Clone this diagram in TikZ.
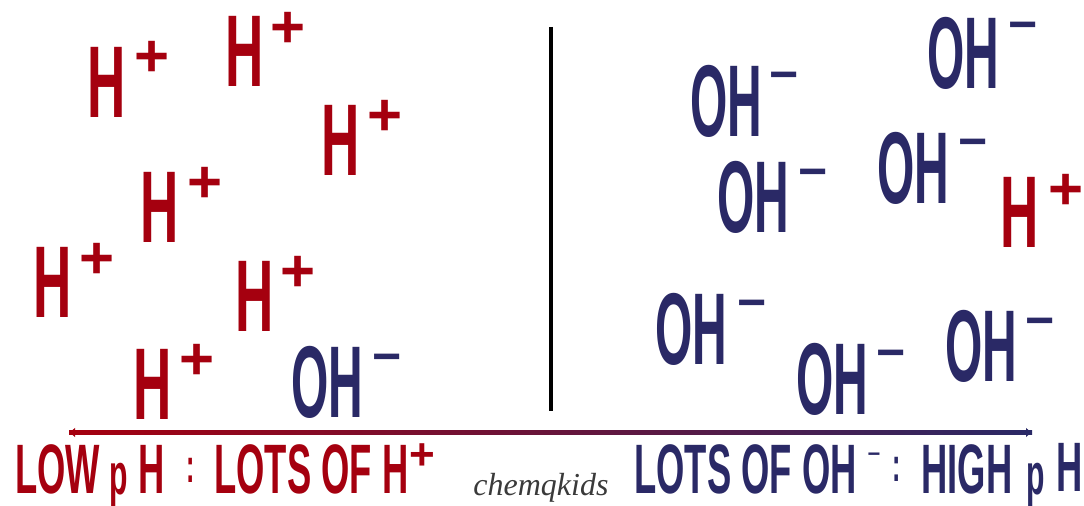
\documentclass[tikz,border=0pt]{standalone}
\usepackage{fontspec}
\usepackage{xcolor}
\usetikzlibrary{arrows.meta}
\newfontfamily\ionfont[FakeStretch=0.52]{Liberation Sans}
\newfontfamily\ohfont[FakeStretch=0.47]{Liberation Sans}
\newfontfamily\signfont{Liberation Sans}
\newfontfamily\markfont{Liberation Serif}
\definecolor{acidred}{HTML}{A5000F}
\definecolor{basenavy}{HTML}{2A2966}
\definecolor{markgray}{HTML}{3A3A3A}
\tikzset{
  ion/.style={inner sep=0pt, anchor=base west},
  hion/.style={ion, text=acidred, font=\ionfont\bfseries\fontsize{51}{51}\selectfont},
  ohion/.style={ion, text=basenavy, font=\ohfont\bfseries\fontsize{51}{51}\selectfont},
  charge/.style={inner sep=0pt, anchor=center, text depth=0pt},
  pluscharge/.style={charge, text=acidred, text height=20pt, font=\signfont\bfseries\fontsize{30}{30}\selectfont},
  minuscharge/.style={charge, text=basenavy, text height=16.7pt, font=\signfont\bfseries\fontsize{25}{25}\selectfont},
  caption/.style={inner sep=0pt, anchor=base west, font=\ionfont\bfseries\fontsize{35}{35}\selectfont},
  smallp/.style={caption, font=\ionfont\bfseries\fontsize{29}{29}\selectfont},
  smallcolon/.style={caption, font=\ionfont\bfseries\fontsize{24}{24}\selectfont}
}
\begin{document}
\begin{tikzpicture}[x=0.5pt,y=-0.5pt]
  \fill[white] (0,0) rectangle (1084,506);
  \useasboundingbox (0,0) rectangle (1084,506);

  % divider between the two sides
  \coordinate (divtop) at (551,27);
  \coordinate (divbot) at (551,411);
  \draw[line width=1.6pt] (divtop) -- (divbot);

  % acid side (and the odd one out)
  \foreach \hx/\hy/\px/\py [count=\i] in {87/118/152/57, 225/87/288/28, 321/176/385/116,
      140/243/205/183, 33/318/97/259, 235/332/298/272, 133/420/197/360, 1000/248/1066/190}{
    \node[hion] (hp\i) at (\hx,\hy) {H};
    \node[pluscharge] (hps\i) at (\px,\py) {+};
  }

  % base side
  \foreach \ox/\oy/\mx/\my [count=\i] in {291/418/387/357, 690/137/784/75, 927/89/1023/25,
      717/233/813/172, 877/204/973/142, 655/365/752/303, 796/415/891/353, 945/382/1040/321}{
    \node[ohion] (oh\i) at (\ox,\oy) {OH};
    \node[minuscharge] (ohs\i) at (\mx,\my) {−};
  }

  % pH scale
  \coordinate (scaleL) at (69,432.5);
  \coordinate (scaleR) at (1032,432.5);
  \shade[left color=acidred, right color=basenavy] ([yshift=-0.8pt]scaleL) rectangle ([yshift=0.8pt]scaleR);
  \draw[acidred, line width=1.6pt, {Latex[length=3pt,width=5pt]}-] (scaleL) -- ++(10,0);
  \draw[basenavy, line width=1.6pt, -{Latex[length=3pt,width=5pt]}] ([xshift=-5pt]scaleR) -- (scaleR);

  % captions
  \node[caption, text=acidred] (lowtxt) at (15,494) {LOW};
  \node[smallp, text=acidred] (lowp) at (109,495) {p};
  \node[caption, text=acidred] (lowh) at (138,494) {H};
  \node[smallcolon, text=acidred] (lowcolon) at (186,483) {:};
  \node[caption, text=acidred] (lotsh) at (214,494) {LOTS OF H};
  \node[charge, text=acidred, text height=15pt, font=\signfont\bfseries\fontsize{22}{22}\selectfont] (lotshs) at (422,455) {+};

  \node[inner sep=0pt, anchor=base west, text=markgray, font=\markfont\itshape\fontsize{16}{16}\selectfont] (mark) at (473,496) {chemqkids};

  \node[caption, text=basenavy] (lotsoh) at (634,494) {LOTS OF OH};
  \node[charge, text=basenavy, text height=7pt, font=\signfont\bfseries\fontsize{11}{11}\selectfont] (lotsohs) at (874,455) {−};
  \node[smallcolon, text=basenavy] (highcolon) at (892,482) {:};
  \node[caption, text=basenavy] (hightxt) at (921,494) {HIGH};
  \node[smallp, text=basenavy] (highp) at (1026,495) {p};
  \node[caption, text=basenavy] (highh) at (1056,492) {H};
\end{tikzpicture}
\end{document}
